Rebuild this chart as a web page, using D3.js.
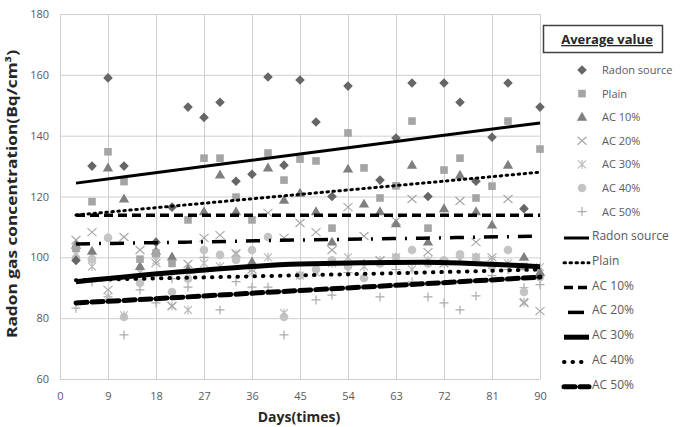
<!DOCTYPE html>
<head>
  <meta charset="utf-8">
  <script src="https://d3js.org/d3.v7.min.js"></script>
  <style>
    body { margin:0; background:#fff; }
    text { font-family: "Open Sans", "Noto Sans", sans-serif; }
    .tick text { fill:#595959; font-size:11px; }
    .tick line { stroke:#cfcfcf; }
    .axis-title { font-weight:bold; font-size:14px; fill:#262626; }
    .legend text { fill:#595959; font-size:11px; }
  </style>
</head>
<body>
<script>
  // measurement days (every 3 days)
  var days = [3, 6, 9, 12, 15, 18, 21, 24, 27, 30, 33, 36, 39, 42, 45,
              48, 51, 54, 57, 60, 63, 66, 69, 72, 75, 78, 81, 84, 87, 90];

  var seriesNames = ["Radon source", "Plain", "AC 10%", "AC 20%", "AC 30%", "AC 40%", "AC 50%"];

  var radonSource = [99, 130, 159, 130, null, 105, 116.5, 149.4, 146, 151, 125, 127.3, 159.3, 130.3, 158.3,
                     144.5, 120, 156.3, null, 125.4, 139.2, 157.3, 120, 157.3, 151, 125, 139.5, 157.3, 116, 149.4];
  var plain = [103, 118.3, 134.7, 124.9, 99.4, 101.4, 98, 112.3, 132.6, 132.6, 119.8, 112.3, 134.3, 125.4, 132.3,
               131.7, 109.6, 140.9, 129.4, 119.5, 123.5, 144.8, 109.6, 128.7, 132.6, 119.5, 123.4, 144.8, 97, 135.6];
  var ac10 = [104, 102, 129.4, 119.2, 97, 102, 100.1, 96, 115, 127.1, 115, 98.5, 129.4, 118.8, 121.1,
              115, 105, 129, 117.5, 115, 111, 130.3, 105, 116, 127, 115, 110.6, 130.3, 100, 95];
  var ac20 = [105.7, 108.3, 89.3, 106.7, 102.4, 98.1, 84, 97.8, 106.4, 107.3, 101.4, 96, 114.6, 106.4, 111.3,
              108.3, 102.4, 116.5, 107, 99, 112, 119.2, 101.7, 98, 118.5, 105, 100, 119.2, 85, 82.3];
  var ac30 = [101, 97, 87, 81, 95, 99, 84, 82.7, 98, 97, 101, 95, 100, 81.7, 94,
              95, 98, 100, 97, 99, 100, 96, 99, 98, 99, 100, 99, 98, 85.3, 96.8];
  var ac40 = [99.8, 99.4, 106.4, 80.4, 91.6, 100.8, 88.6, 93, 102.4, 100.8, 99.1, 102.4, 106.7, 80.4, 94,
              96, 99, 97, 93.2, 98, 100, 102.4, 98, 99, 101, 100, 97, 102.4, 88.6, 93.5];
  var ac50 = [83.3, 91.9, 87, 74.5, 89.3, 85, 93, 90.2, 100, 82.7, 92, 90.2, 90.2, 74.5, 94,
              86, 87.6, 95, 98, 87, 96, 91.9, 87, 85, 82.7, 87.3, 94, 96, 90, 91];

  // trend lines (at a few days)
  var trendDays = [3, 24, 45, 68, 90];
  var trendRadon = [124.4, 129.2, 134.0, 139.2, 144.2];
  var trendPlain = [113.9, 117.3, 120.7, 124.4, 128.0];
  var trendAc10 = [113.8, 113.8, 113.8, 113.8, 113.8];
  var trendAc20 = [104.4, 105.0, 105.7, 106.3, 107.0];
  var trendAc30 = [92.0, 95.4, 97.8, 98.4, 96.9];
  var trendAc40 = [92.5, 93.3, 94.1, 95.0, 96.0];
  var trendAc50 = [85.0, 87.0, 89.1, 91.3, 93.5];

  var xTicks = [0, 9, 18, 27, 36, 45, 54, 63, 72, 81, 90];
  var yTicks = [60, 80, 100, 120, 140, 160, 180];

  var margin = {top: 14, right: 143, bottom: 48, left: 60};
  var width = 683 - margin.left - margin.right,
      height = 427 - margin.top - margin.bottom;

  var root = d3.select("body").append("svg")
      .attr("width", 683)
      .attr("height", 427);

  var svg = root.append("g")
      .attr("transform", "translate(" + margin.left + "," + margin.top + ")");

  var x = d3.scaleLinear().domain([0, 90]).range([0, width]);
  var y = d3.scaleLinear().domain([60, 180]).range([height, 0]);

  // grid + ticks
  svg.append("g")
      .attr("class", "x axis")
      .attr("transform", "translate(0," + height + ")")
      .call(d3.axisBottom(x).tickValues(xTicks).tickSize(-height).tickPadding(13))
      .call(function(g) { g.select(".domain").remove(); });

  svg.append("g")
      .attr("class", "y axis")
      .call(d3.axisLeft(y).tickValues(yTicks).tickSize(-width).tickPadding(11))
      .call(function(g) { g.select(".domain").remove(); });

  svg.selectAll(".tick text").attr("font-family", null);

  var colours = ["#666666", "#a5a5a5", "#7f7f7f", "#a8a8a8", "#bdbdbd", "#c4c4c4", "#ababab"];
  var values = [radonSource, plain, ac10, ac20, ac30, ac40, ac50];

  // marker shapes
  function drawMarker(g, i, colour) {
    if (i === 0) {
      g.append("path").attr("d", "M0,-4.8L4.8,0L0,4.8L-4.8,0Z").attr("fill", colour);
    } else if (i === 1) {
      g.append("path").attr("d", d3.symbol().type(d3.symbolSquare).size(58)).attr("fill", colour);
    } else if (i === 2) {
      g.append("path").attr("d", d3.symbol().type(d3.symbolTriangle).size(46))
        .attr("transform", "translate(0,0.5)").attr("fill", colour);
    } else if (i === 3) {
      g.append("path").attr("d", "M-4.5,-4L4.5,4M-4.5,4L4.5,-4")
        .attr("stroke", colour).attr("stroke-width", 1.2).attr("fill", "none");
    } else if (i === 4) {
      g.append("path").attr("d", "M-4,-4L4,4M-4,4L4,-4M0,-4.5L0,4.5")
        .attr("stroke", colour).attr("stroke-width", 1.2).attr("fill", "none");
    } else if (i === 5) {
      g.append("circle").attr("r", 4.3).attr("fill", colour);
    } else {
      g.append("path").attr("d", "M-4.5,0L4.5,0M0,-4.5L0,4.5")
        .attr("stroke", colour).attr("stroke-width", 1.2).attr("fill", "none");
    }
  }

  // draw series back to front so the dark ones sit on top
  var order = [6, 5, 4, 3, 2, 1, 0];
  order.forEach(function(i) {
    var pts = days.map(function(d, k) { return {day: d, v: values[i][k]}; })
      .filter(function(p) { return p.v != null; });
    svg.append("g").attr("class", "series-" + i)
      .selectAll("g")
      .data(pts)
      .enter().append("g")
        .attr("transform", function(p) { return "translate(" + x(p.day) + "," + y(p.v) + ")"; })
        .each(function() { drawMarker(d3.select(this), i, colours[i]); });
  });

  // trend line styles
  var trendStyles = [
    {w: 3, dash: null, cap: "butt"},
    {w: 3, dash: "1.5,4.5", cap: "round"},
    {w: 3.5, dash: "9,5", cap: "butt"},
    {w: 3.5, dash: "14,9,2,9", cap: "butt"},
    {w: 5, dash: null, cap: "butt"},
    {w: 4, dash: "0.5,8", cap: "round"},
    {w: 5, dash: "11,5", cap: "round"}
  ];
  var trends = [trendRadon, trendPlain, trendAc10, trendAc20, trendAc30, trendAc40, trendAc50];

  var line = d3.line()
      .x(function(d) { return x(d[0]); })
      .y(function(d) { return y(d[1]); })
      .curve(d3.curveMonotoneX);

  trends.forEach(function(t, i) {
    var s = trendStyles[i];
    svg.append("path")
      .datum(trendDays.map(function(d, k) { return [d, t[k]]; }))
      .attr("fill", "none")
      .attr("stroke", "#000")
      .attr("stroke-width", s.w)
      .attr("stroke-linecap", s.cap)
      .attr("stroke-dasharray", s.dash)
      .attr("d", line);
  });

  // axis titles
  root.append("text")
      .attr("class", "axis-title")
      .attr("transform", "translate(17,194) rotate(-90)")
      .attr("text-anchor", "middle")
      .attr("textLength", 288)
      .attr("lengthAdjust", "spacingAndGlyphs")
      .text("Radon gas concentration(Bq/cm³)");

  root.append("text")
      .attr("class", "axis-title")
      .attr("x", 299)
      .attr("y", 422)
      .attr("text-anchor", "middle")
      .text("Days(times)");

  // legend
  var legend = root.append("g").attr("class", "legend");

  legend.append("rect")
      .attr("x", 543.5).attr("y", 25.5)
      .attr("width", 119).attr("height", 27)
      .attr("fill", "#fff").attr("stroke", "#404040").attr("stroke-width", 1.5);

  legend.append("text")
      .attr("x", 607).attr("y", 44)
      .attr("text-anchor", "middle")
      .style("font-weight", "bold").style("font-size", "13px").style("fill", "#262626")
      .style("text-decoration", "underline")
      .text("Average value");

  seriesNames.forEach(function(name, i) {
    var ly = 70 + i * 23.6;
    var g = legend.append("g").attr("transform", "translate(582," + ly + ")");
    drawMarker(g, i, colours[i]);
    legend.append("text").attr("x", 602).attr("y", ly + 4).text(name);
  });

  seriesNames.forEach(function(name, i) {
    var ly = 236 + i * 24.8;
    var s = trendStyles[i];
    var x1 = 564, x2 = 589;
    if (i === 3) { x1 = 568; x2 = 584; }
    legend.append("line")
      .attr("x1", x1).attr("x2", x2)
      .attr("y1", ly + 2).attr("y2", ly + 2)
      .attr("stroke", "#000")
      .attr("stroke-width", s.w)
      .attr("stroke-linecap", s.cap)
      .attr("stroke-dasharray", i === 3 ? null : s.dash);
    legend.append("text").attr("x", 592).attr("y", ly + 4)
      .style("font-size", "12px").text(name);
  });
</script>
</body>
